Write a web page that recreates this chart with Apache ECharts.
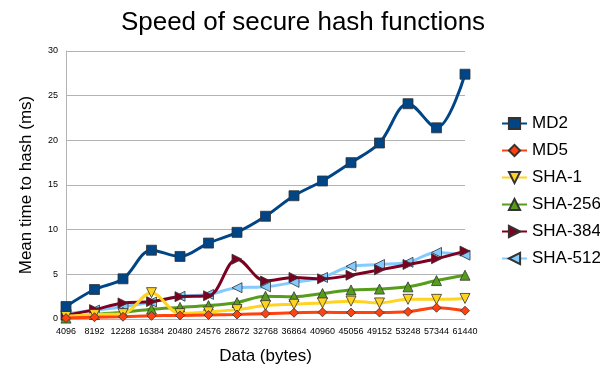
<!DOCTYPE html>
<html><head><meta charset="utf-8">
<script src="https://cdn.jsdelivr.net/npm/echarts@6/dist/echarts.min.js"></script>
<style>html,body{margin:0;padding:0;background:#fff}#c{width:600px;height:374px}</style>
</head><body><div id="c"></div>
<script>
const categories = ['4096','8192','12288','16384','20480','24576','28672','32768','36864','40960','45056','49152','53248','57344','61440'];
const md2    = [1.4, 3.3, 4.5, 7.7, 7.0, 8.5, 9.7, 11.5, 13.8, 15.45, 17.5, 19.7, 24.1, 21.4, 27.4];
const md5    = [0.1, 0.2, 0.25, 0.35, 0.4, 0.45, 0.5, 0.6, 0.7, 0.75, 0.72, 0.72, 0.8, 1.26, 0.93];
const sha1   = [0.3, 0.5, 0.6, 2.95, 0.6, 0.8, 1.05, 1.5, 1.65, 1.8, 2.0, 1.8, 2.2, 2.2, 2.3];
const sha256 = [0.1, 0.5, 0.75, 1.1, 1.3, 1.5, 1.85, 2.55, 2.5, 2.85, 3.25, 3.35, 3.6, 4.3, 4.9];
const sha384 = [0.4, 1.05, 1.8, 1.95, 2.5, 2.6, 6.7, 4.25, 4.65, 4.5, 4.9, 5.5, 6.1, 6.75, 7.6];
const sha512 = [0.55, 1.0, 1.35, 1.9, 2.55, 2.75, 3.5, 3.6, 4.1, 4.65, 5.9, 6.1, 6.35, 7.45, 7.15];
const seriesNames = ['MD2','MD5','SHA-1','SHA-256','SHA-384','SHA-512'];
const seriesData = [md2, md5, sha1, sha256, sha384, sha512];
const colors = ['#004586','#ff420e','#ffd320','#579d1c','#7e0021','#83caff'];
const symbols = ['rect','diamond','triangle','triangle','triangle','triangle'];
const rotations = [0, 0, 180, 0, -90, 90];
const sizes = [10, 9, 10, 10, 10, 10];

const chart = echarts.init(document.getElementById('c'));
const font = 'Liberation Sans, Arial, sans-serif';
chart.setOption({
  animation: false,
  backgroundColor: '#fff',
  color: colors,
  title: {
    text: 'Speed of secure hash functions',
    left: 298, top: 5, textAlign: 'center',
    textStyle: {fontFamily: font, fontSize: 26, fontWeight: 'normal', color: '#000'}
  },
  legend: {
    orient: 'vertical', left: 496, top: 110,
    itemGap: 10, itemWidth: 25, itemHeight: 14,
    textStyle: {fontFamily: font, fontSize: 17, color: '#000'},
    data: seriesNames
  },
  grid: {left: 66, right: 135, top: 51, bottom: 55, containLabel: false},
  xAxis: {
    type: 'category', data: categories, boundaryGap: false,
    name: 'Data (bytes)', nameLocation: 'middle', nameGap: 29,
    nameTextStyle: {fontFamily: font, fontSize: 17, color: '#000'},
    axisLine: {lineStyle: {color: '#b3b3b3'}},
    axisTick: {show: false},
    axisLabel: {fontFamily: font, fontSize: 9, color: '#000', interval: 0, margin: 8},
    splitLine: {show: false}
  },
  yAxis: {
    type: 'value', min: 0, max: 30, interval: 5,
    name: 'Mean time to hash (ms)', nameLocation: 'middle', nameGap: 31,
    nameTextStyle: {fontFamily: font, fontSize: 17, color: '#000'},
    axisLine: {show: true, lineStyle: {color: '#b3b3b3'}},
    axisTick: {show: false},
    axisLabel: {fontFamily: font, fontSize: 9, color: '#000', margin: 8},
    splitLine: {lineStyle: {color: '#b3b3b3'}}
  },
  series: seriesNames.map((n, i) => ({
    name: n, type: 'line', data: seriesData[i], smooth: 0.35,
    symbol: symbols[i], symbolRotate: rotations[i], symbolSize: sizes[i],
    showAllSymbol: true,
    lineStyle: {width: 3, color: colors[i]},
    itemStyle: {color: colors[i], borderColor: '#333', borderWidth: 0.8},
    z: 10 - i
  }))
});
</script></body></html>
